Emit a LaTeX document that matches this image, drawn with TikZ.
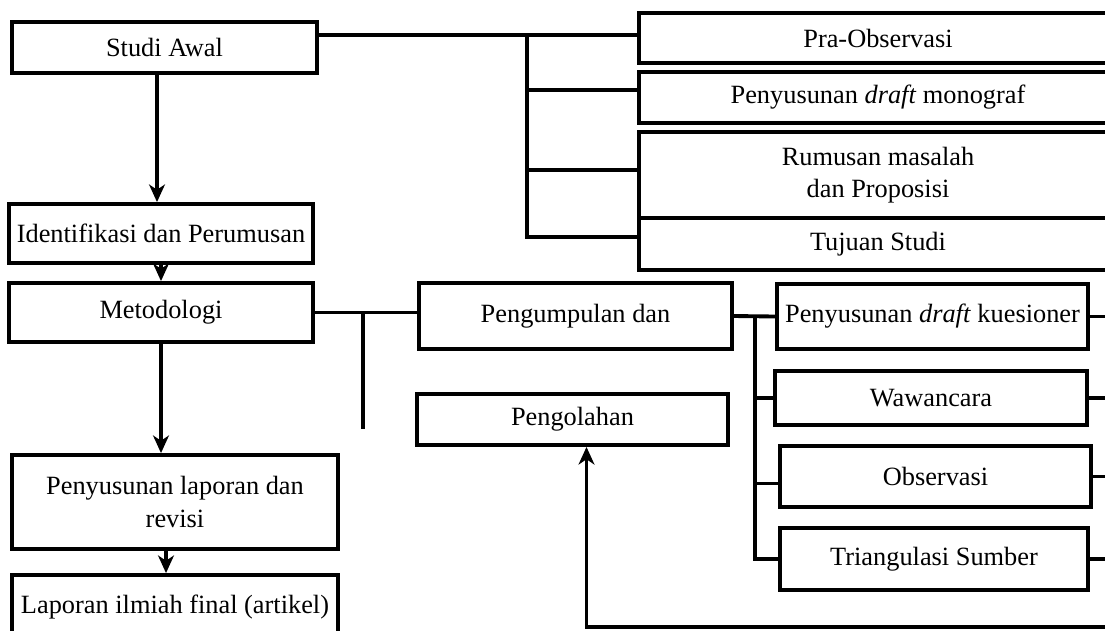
\documentclass[tikz,border=0pt]{standalone}
\usepackage{fontspec}
\setmainfont{Liberation Serif}
\usetikzlibrary{arrows.meta}

\begin{document}
\begin{tikzpicture}[x=0.02cm,y=-0.02cm,line width=2.2pt,
    >={Stealth[length=10pt,width=9pt,inset=3pt]},
    kotak/.style={draw,rectangle,inner sep=2pt,align=center,font=\fontsize{15}{18.5}\selectfont}]
    \useasboundingbox (0,0) rectangle (1105,630);
    \clip (0,0) rectangle (1105,630);

    % kolom kiri
    \node[kotak,minimum width=6.1cm,minimum height=1.02cm] (awal) at (164.5,47.5) {Studi Awal};
    \node[kotak,minimum width=6.08cm,minimum height=1.18cm] (ident) at (161,233.5) {Identifikasi dan Perumusan};
    \node[kotak,minimum width=6.08cm,minimum height=1.18cm] (metod) at (161,312.5) {Metodologi};
    \node[kotak,minimum width=6.52cm,minimum height=1.88cm] (lapor) at (175,502) {Penyusunan laporan dan\\revisi};
    \node[kotak,minimum width=6.52cm,minimum height=1.3cm] (final) at (175,607.5) {Laporan ilmiah final (artikel)};

    % studi awal
    \node[kotak,minimum width=9.56cm,minimum height=1cm] (pra) at (878,38) {Pra-Observasi};
    \node[kotak,minimum width=9.56cm,minimum height=1.02cm] (mono) at (878,97.5) {Penyusunan \textit{draft} monograf};
    \node[kotak,minimum width=9.56cm,minimum height=1.72cm] (rumus) at (878,175) {Rumusan masalah\\dan Proposisi};
    \node[kotak,minimum width=9.56cm,minimum height=1.04cm] (tujuan) at (878,244) {Tujuan Studi};

    % metodologi
    \node[kotak,minimum width=6.26cm,minimum height=1.32cm] (kumpul) at (575.5,316) {Pengumpulan dan};
    \node[kotak,minimum width=6.22cm,minimum height=1.02cm] (olah) at (572.5,419.5) {Pengolahan};
    \node[kotak,minimum width=6.22cm,minimum height=1.3cm] (kues) at (932.5,316.5) {Penyusunan \textit{draft} kuesioner};
    \node[kotak,minimum width=6.24cm,minimum height=1.08cm] (wawan) at (931,398) {Wawancara};
    \node[kotak,minimum width=6.22cm,minimum height=1.22cm] (obs) at (935.5,476.5) {Observasi};
    \node[kotak,minimum width=6.16cm,minimum height=1.24cm] (tri) at (934,559) {Triangulasi Sumber};

    \coordinate (busA) at (527,35);
    \coordinate (busB) at (755,316);
    \coordinate (cabang) at (363,312.5);
    \coordinate (kanan) at (1110,0);
    \coordinate (bawah) at (1110,627);

    % panah kolom kiri
    \draw[->] ([xshift=-0.15cm]awal.south) -- ([xshift=-0.15cm]awal.south |- ident.north);
    \draw[->] (ident.south) -- (metod.north);
    \draw[->] (metod.south) -- (metod.south |- lapor.north);
    \draw[->] ([xshift=-0.18cm]lapor.south) -- ([xshift=-0.18cm]final.north);

    % cabang studi awal
    \draw (awal.east |- busA) -- (busA -| pra.west);
    \draw (busA) |- ([yshift=0.15cm]mono.west);
    \draw (busA) |- ([yshift=0.1cm]rumus.west);
    \draw (busA) |- ([yshift=0.14cm]tujuan.west);

    % cabang metodologi
    \draw (metod.east) -- (metod.east -| kumpul.west);
    \draw (cabang) -- ++(0,116);
    \draw (kumpul.east) -- (kues.west);
    \draw (busB) |- (wawan.west);
    \draw (busB) |- ([yshift=-0.14cm]obs.west);
    \draw (busB) |- (tri.west);
    \foreach \n in {kues,wawan,obs,tri}
        \draw (\n.east) -- (\n.east -| kanan);
    \draw[->] (bawah) -| ([xshift=0.28cm]olah.south);
\end{tikzpicture}
\end{document}
